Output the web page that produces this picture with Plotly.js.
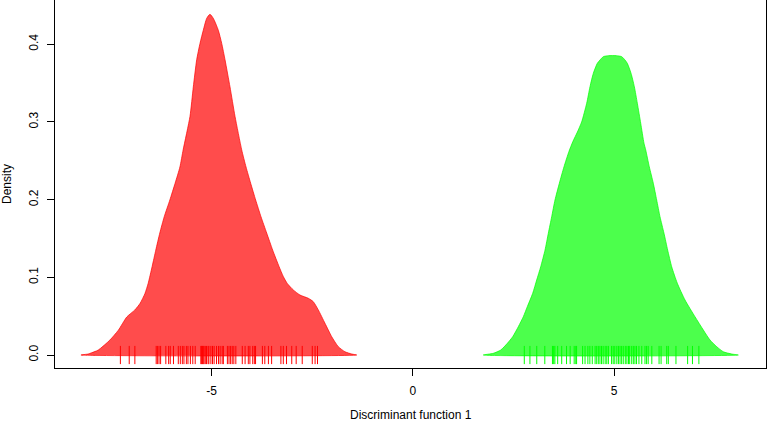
<!DOCTYPE html>
<html>
<head>
<meta charset="utf-8">
<script src="https://cdn.plot.ly/plotly-3.0.1.min.js"></script>
<style>html,body{margin:0;padding:0;background:#fff;}#chart{width:767px;height:423px;}</style>
</head>
<body>
<div id="chart"></div>
<script>
// Density curve of group 1 (red)
var redX = [-8.25, -8.07, -8.02, -7.82, -7.53, -7.32, -7.11, -6.91, -6.78, -6.66, -6.58, -6.48, -6.39, -6.29, -6.18, -6.04, -5.91, -5.79, -5.71, -5.54, -5.457, -5.373, -5.291, -5.209, -5.124, -5.043, -4.960, -4.836, -4.751, -4.669, -4.545, -4.420, -4.254, -4.147, -4.031, -3.907, -3.775, -3.633, -3.484, -3.327, -3.220, -3.120, -2.971, -2.805, -2.598, -2.474, -2.350, -2.184, -2.017, -1.853, -1.687, -1.520, -1.396];
var redY = [0, 0.0013, 0.0022, 0.0064, 0.0193, 0.032, 0.049, 0.058, 0.0665, 0.079, 0.092, 0.114, 0.135, 0.157, 0.178, 0.1995, 0.221, 0.242, 0.264, 0.307, 0.345, 0.380, 0.401, 0.418, 0.4333, 0.4385, 0.4333, 0.418, 0.401, 0.380, 0.345, 0.307, 0.264, 0.242, 0.221, 0.1995, 0.178, 0.157, 0.135, 0.114, 0.101, 0.092, 0.0837, 0.0772, 0.073, 0.0686, 0.058, 0.0408, 0.0236, 0.0107, 0.0042, 0.0013, 0];
// Density curve of group 2 (green)
var greenX = [1.751, 2.000, 2.184, 2.348, 2.482, 2.621, 2.746, 2.845, 2.979, 3.078, 3.178, 3.285, 3.367, 3.451, 3.533, 3.641, 3.757, 3.88, 3.98, 4.09, 4.196, 4.321, 4.403, 4.486, 4.585, 4.652, 4.734, 4.858, 5.066, 5.191, 5.273, 5.331, 5.423, 5.506, 5.580, 5.664, 5.746, 5.788, 5.877, 5.977, 6.061, 6.143, 6.243, 6.334, 6.434, 6.574, 6.765, 7.013, 7.220, 7.386, 7.553, 7.717, 7.926, 8.090];
var greenY = [0, 0.0022, 0.0064, 0.015, 0.0236, 0.0364, 0.0493, 0.0622, 0.0794, 0.0965, 0.1136, 0.135, 0.1566, 0.178, 0.1995, 0.221, 0.2423, 0.262, 0.275, 0.287, 0.300, 0.324, 0.3453, 0.3626, 0.3754, 0.3797, 0.384, 0.3852, 0.3852, 0.384, 0.3797, 0.3754, 0.3626, 0.3453, 0.324, 0.2982, 0.2724, 0.264, 0.2423, 0.221, 0.1995, 0.178, 0.1566, 0.135, 0.1136, 0.0923, 0.0708, 0.0493, 0.0322, 0.0193, 0.0107, 0.0042, 0.0013, 0];
// Rug: discriminant scores per group
var redScores = [-7.27, -7.05, -6.91, -6.38, -6.35, -6.31, -6.27, -6.14, -6.07, -6.03, -5.95, -5.83, -5.78, -5.73, -5.69, -5.63, -5.59, -5.53, -5.47, -5.41, -5.27, -5.25, -5.23, -5.21, -5.19, -5.16, -5.13, -5.09, -5.07, -5.02, -4.98, -4.94, -4.88, -4.83, -4.79, -4.74, -4.71, -4.61, -4.57, -4.53, -4.49, -4.45, -4.40, -4.24, -4.17, -4.09, -4.05, -3.98, -3.94, -3.91, -3.74, -3.68, -3.59, -3.51, -3.28, -3.22, -3.14, -3.01, -2.90, -2.75, -2.50, -2.43, -2.37];
var greenScores = [2.77, 2.91, 3.08, 3.28, 3.47, 3.50, 3.53, 3.60, 3.70, 3.82, 3.91, 4.01, 4.05, 4.07, 4.22, 4.28, 4.35, 4.40, 4.46, 4.53, 4.57, 4.61, 4.65, 4.69, 4.73, 4.78, 4.82, 4.86, 4.94, 4.98, 5.02, 5.07, 5.11, 5.15, 5.19, 5.23, 5.28, 5.32, 5.36, 5.39, 5.44, 5.48, 5.52, 5.56, 5.62, 5.69, 5.77, 5.81, 5.85, 5.94, 6.12, 6.17, 6.31, 6.35, 6.54, 6.83, 6.95, 7.11];
var xTicks = [-5, 0, 5];
var yTicks = [0.0, 0.1, 0.2, 0.3, 0.4];
var yTickText = ["0.0", "0.1", "0.2", "0.3", "0.4"];
var xTitle = 'Discriminant function 1';
var yTitle = 'Density';

function closed(a){ return a.concat([a[0]]); }

var traces = [
  {x: closed(redX), y: closed(redY), type: 'scatter', mode: 'lines', fill: 'toself',
   fillcolor: 'rgba(255,0,0,0.7)', line: {color: 'rgba(255,0,0,0.7)', width: 1, shape: 'spline', smoothing: 0.6}, hoverinfo: 'skip'},
  {x: closed(greenX), y: closed(greenY), type: 'scatter', mode: 'lines', fill: 'toself',
   fillcolor: 'rgba(0,255,0,0.7)', line: {color: 'rgba(0,255,0,0.7)', width: 1, shape: 'spline', smoothing: 0.6}, hoverinfo: 'skip'},
  {x: redScores, y: redScores.map(function(){return 0;}), type: 'scatter', mode: 'markers',
   marker: {symbol: 'line-ns-open', size: 13, color: '#ff0000', line: {color: '#ff0000', width: 1}}},
  {x: greenScores, y: greenScores.map(function(){return 0;}), type: 'scatter', mode: 'markers',
   marker: {symbol: 'line-ns-open', size: 13, color: '#00ff00', line: {color: '#00ff00', width: 1}}}
];

var font = {family: '"Liberation Sans", Arial, sans-serif', size: 12, color: '#000'};
var layout = {
  width: 767, height: 423,
  margin: {l: 55, r: 1, t: 0, b: 55},
  paper_bgcolor: '#fff', plot_bgcolor: '#fff',
  showlegend: false,
  font: font,
  xaxis: {
    range: [-8.895, 8.778], tickvals: xTicks, ticktext: xTicks.map(String),
    showgrid: false, zeroline: false, showline: true, mirror: true, linecolor: '#000', linewidth: 1,
    ticks: 'outside', ticklen: 7, tickcolor: '#000', tickfont: font, ticklabelstandoff: 5
  },
  yaxis: {
    range: [-0.0167, 0.4569], tickvals: yTicks, ticktext: yTickText, tickangle: -90,
    showgrid: false, zeroline: false, showline: true, mirror: true, linecolor: '#000', linewidth: 1,
    ticks: 'outside', ticklen: 7, tickcolor: '#000', tickfont: font, ticklabelstandoff: 4,
    title: {text: yTitle, font: font, standoff: 18}
  },
  annotations: [
    {text: xTitle, xref: 'paper', yref: 'paper', x: 0.5, y: 0, xanchor: 'center', yanchor: 'middle',
     yshift: -47, showarrow: false, font: font}
  ]
};
Plotly.newPlot('chart', traces, layout, {staticPlot: true});
</script>
</body>
</html>
